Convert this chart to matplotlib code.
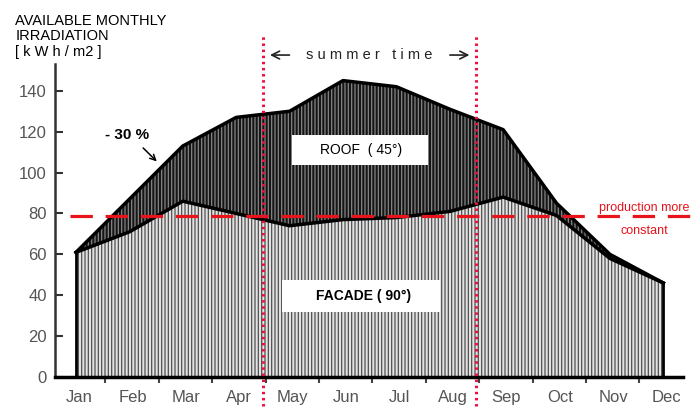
import numpy as np
import matplotlib
matplotlib.use('Agg')
import matplotlib.pyplot as plt
from matplotlib.patches import Rectangle

plt.rcParams['font.family'] = ['Liberation Sans', 'DejaVu Sans']
plt.rcParams['hatch.linewidth'] = 0.9

# data (kWh/m2 per month)
months = ['Jan', 'Feb', 'Mar', 'Apr', 'May', 'Jun', 'Jul', 'Aug', 'Sep', 'Oct', 'Nov', 'Dec']
roof = [61, 87, 113, 127, 130, 145, 142, 131, 121, 85, 60, 46]
facade = [61, 71, 86, 80, 74, 77, 78, 81, 88, 79, 58, 46]
constant_level = 79
summer_start, summer_end = 3.5, 7.5
yticks = [0, 20, 40, 60, 80, 100, 120, 140]

x = np.arange(len(months))

fig = plt.figure(figsize=(6.94, 4.11), dpi=100)
ax = fig.add_axes([0.0793, 0.0827, 0.905, 0.761])

# facade area: light with dark stripes
ax.fill_between(x, 0, facade, facecolor='#e2e2e2', edgecolor='#505050',
                hatch='|||||', linewidth=0)
# roof surplus: dark with light stripes
ax.fill_between(x, facade, roof, facecolor='#151515', edgecolor='#858585',
                hatch='|||||', linewidth=0)

ax.plot(x, roof, color='black', lw=2.5, solid_joinstyle='round')
ax.plot(x, facade, color='black', lw=2.5, solid_joinstyle='round')
ax.plot([x[0], x[0]], [0, facade[0]], color='black', lw=2)
ax.plot([x[-1], x[-1]], [0, facade[-1]], color='black', lw=2)

# constant production line
ax.plot([-0.12, 11.6], [constant_level, constant_level], color='#e8141c',
        lw=2.3, dashes=(7, 4), clip_on=False, zorder=5)
ax.text(10.65, constant_level + 3.5, 'production more', color='#e8141c',
        fontsize=9, ha='center', va='center', clip_on=False)
ax.text(10.65, constant_level - 7.5, 'constant', color='#e8141c',
        fontsize=9, ha='center', va='center', clip_on=False)

# summer time markers
for xv in (summer_start, summer_end):
    ax.plot([xv, xv], [-14, 167], color='#ee1040', lw=2.2, ls=(0, (0.8, 1.2)),
            clip_on=False, zorder=6)
ax.text(5.5, 157.5, 's u m m e r   t i m e', fontsize=10.5, ha='center',
        va='center', color='#222222')
ax.annotate('', xy=(summer_start + 0.08, 157.5), xytext=(summer_start + 0.55, 157.5),
            arrowprops=dict(arrowstyle='->', color='#222222', lw=1.2,
                            mutation_scale=14),
            annotation_clip=False)
ax.annotate('', xy=(summer_end - 0.08, 157.5), xytext=(summer_end - 0.55, 157.5),
            arrowprops=dict(arrowstyle='->', color='#222222', lw=1.2,
                            mutation_scale=14),
            annotation_clip=False)

# labels in white boxes
ax.add_patch(Rectangle((4.04, 103.8), 2.55, 14.7, facecolor='white',
                       edgecolor='none', zorder=4))
ax.text(5.33, 111, 'ROOF  ( 45°)', fontsize=10, ha='center', va='center',
        zorder=5)
ax.add_patch(Rectangle((3.86, 31.8), 2.96, 15.7, facecolor='white',
                       edgecolor='none', zorder=4))
ax.text(5.38, 39.5, 'FACADE ( 90°)', fontsize=10, fontweight='bold',
        ha='center', va='center', zorder=5)

ax.text(0.95, 118.5, '- 30 %', fontsize=11, fontweight='bold', ha='center',
        va='center')
ax.annotate('', xy=(1.55, 104.5), xytext=(1.22, 113),
            arrowprops=dict(arrowstyle='->', color='black', lw=1.1))

fig.text(0.022, 0.965, 'AVAILABLE MONTHLY\nIRRADIATION\n[ k W h / m2 ]',
         fontsize=10.5, ha='left', va='top', linespacing=1.1)

ax.set_xlim(-0.393, 11.37)
ax.set_ylim(0, 153)

ax.spines['top'].set_visible(False)
ax.spines['right'].set_visible(False)
ax.spines['left'].set_linewidth(1.8)
ax.spines['left'].set_color('#333333')
ax.spines['bottom'].set_linewidth(2.5)
ax.spines['bottom'].set_color('black')

ax.set_yticks(yticks)
ax.tick_params(axis='y', direction='in', length=6, width=1.5, color='#333333',
               labelsize=12, labelcolor='#555555', pad=6)

ax.set_xticks(np.arange(0.55, 11, 1))
ax.set_xticklabels([])
ax.tick_params(axis='x', which='major', direction='out', length=4, width=1.5,
               color='#444444')
ax.set_xticks(x + 0.06, minor=True)
ax.set_xticklabels(months, minor=True)
ax.tick_params(axis='x', which='minor', length=0, labelsize=12,
               labelcolor='#555555', pad=9)

fig.savefig('out.png', dpi=100)
